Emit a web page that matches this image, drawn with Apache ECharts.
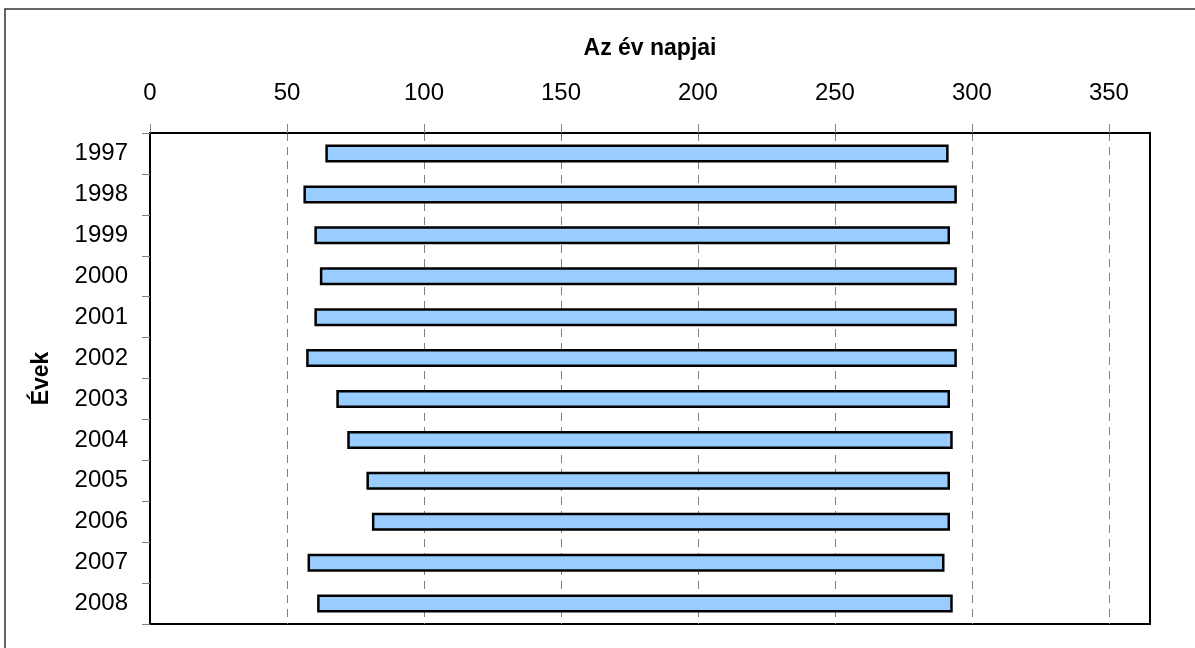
<!DOCTYPE html>
<html>
<head>
<meta charset="utf-8">
<script src="https://cdn.jsdelivr.net/npm/echarts@6/dist/echarts.min.js"></script>
<style>
html,body{margin:0;padding:0;background:#fff;}
#c{width:1195px;height:648px;}
</style>
</head>
<body>
<div id="c"></div>
<script>
const years = ['1997','1998','1999','2000','2001','2002','2003','2004','2005','2006','2007','2008'];
const startDays = [64, 56, 60, 62, 60, 57, 68, 72, 79, 81, 57.5, 61];
const endDays = [291.5, 294.5, 292, 294.5, 294.5, 294.5, 292, 293, 292, 292, 290, 293];
const xTicks = [0, 50, 100, 150, 200, 250, 300, 350];
const xTitle = 'Az év napjai';
const yTitle = 'Évek';

const durations = endDays.map((e, i) => e - startDays[i]);
const font = '"Liberation Sans", Arial, sans-serif';

const chart = echarts.init(document.getElementById('c'));
chart.setOption({
  animation: false,
  backgroundColor: '#fff',
  graphic: [{
    type: 'rect',
    shape: { x: 5, y: 9, width: 1200, height: 660 },
    style: { fill: 'none', stroke: '#333', lineWidth: 1.5 },
    silent: true
  }],
  grid: {
    left: 150, top: 133, right: 45, bottom: 24,
    show: true, borderColor: '#000', borderWidth: 2, backgroundColor: 'transparent'
  },
  xAxis: {
    type: 'value',
    position: 'top',
    min: 0, max: 365, interval: 50,
    name: xTitle,
    nameLocation: 'middle',
    nameGap: 73,
    nameTextStyle: { fontFamily: font, fontSize: 23, fontWeight: 'bold', color: '#000' },
    axisLine: { show: true, lineStyle: { color: '#000', width: 2 } },
    axisTick: { show: true, length: 9, inside: false, lineStyle: { color: '#808080', width: 1 }, customValues: xTicks },
    axisLabel: { margin: 28, fontFamily: font, fontSize: 24, color: '#000', customValues: xTicks },
    splitLine: { show: true, lineStyle: { color: '#808080', width: 1, type: [8, 6] } }
  },
  yAxis: {
    type: 'category',
    inverse: true,
    data: years,
    name: yTitle,
    nameLocation: 'middle',
    nameGap: 97,
    nameRotate: 90,
    nameTextStyle: { fontFamily: font, fontSize: 23, fontWeight: 'bold', color: '#000' },
    axisLine: { show: true, lineStyle: { color: '#000', width: 2 } },
    axisTick: { show: true, length: 8, lineStyle: { color: '#808080', width: 1 } },
    axisLabel: { margin: 22, fontFamily: font, fontSize: 24, color: '#000' },
    splitLine: { show: false }
  },
  series: [
    {
      type: 'bar',
      stack: 'span',
      data: startDays,
      barWidth: 18,
      itemStyle: { color: 'transparent', borderWidth: 0 },
      silent: true
    },
    {
      type: 'bar',
      stack: 'span',
      data: durations,
      barWidth: 18,
      itemStyle: { color: '#99CCFF', borderColor: '#000', borderWidth: 2.5 }
    }
  ]
});
</script>
</body>
</html>
